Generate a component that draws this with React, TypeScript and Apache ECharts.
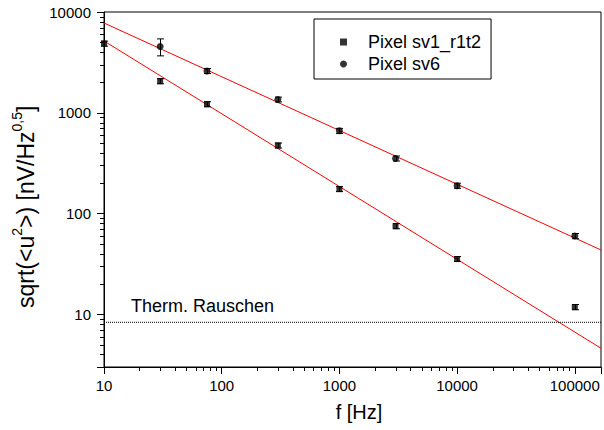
import React, { useEffect, useRef } from "react";
import * as echarts from "echarts";

const FONT = "Arial, Liberation Sans, Helvetica, sans-serif";

// axis ranges
const X_MIN = 10;
const X_MAX = 167000;
const Y_MIN = 3;
const Y_MAX = 10000;

// Pixel sv1_r1t2 (squares)
const freqSq = [10, 30, 75, 300, 1000, 3000, 10000, 100000];
const valSq = [4860, 2060, 1217, 474, 175, 75, 35.4, 11.8];
const errSq = [280, 120, 70, 27, 10, 4.4, 2.0, 0.7];

// Pixel sv6 (circles)
const freqCi = [30, 75, 300, 1000, 3000, 10000, 100000];
const valCi = [4540, 2600, 1355, 662, 352, 189, 59.8];
const errCi = [870, 150, 75, 38, 20, 11, 3.5];

// linear fits (end points)
const fitCi = [
  [10, 7780],
  [167000, 43.5],
];
const fitSq = [
  [10, 5160],
  [167000, 4.6],
];

// thermal noise level
const thermal = 8.33;

const legendNames = ["Pixel sv1_r1t2", "Pixel sv6"];

// y axis title pieces: [text, isSuperscript]
const yTitleParts: [string, boolean][] = [
  ["sqrt(<u", false],
  ["2", true],
  [">) [nV/Hz", false],
  ["0,5", true],
  ["]", false],
];

function decadeTicks(lo: number, hi: number): number[] {
  const out: number[] = [];
  for (let d = 1; d <= 100000; d *= 10) {
    for (let m = 2; m <= 9; m++) {
      const v = m * d;
      if (v > lo && v < hi) out.push(v);
    }
  }
  return out;
}

const decadeFmt = (v: number) => {
  const l = Math.log10(v);
  return Math.abs(l - Math.round(l)) < 1e-6 ? String(Math.round(v)) : "";
};

function buildYTitle() {
  const MAIN = 23;
  const SUP = 14;
  const cvs = document.createElement("canvas");
  const ctx = cvs.getContext("2d")!;
  let x = 0;
  const children: any[] = [];
  for (const [t, sup] of yTitleParts) {
    const fs = sup ? SUP : MAIN;
    ctx.font = `${fs}px ${FONT}`;
    const w = ctx.measureText(t).width;
    children.push({
      type: "text",
      x,
      y: sup ? -9 : 0,
      style: {
        text: t,
        fontSize: fs,
        fontFamily: FONT,
        fill: "#000",
        align: "left",
        verticalAlign: "middle",
      },
    });
    x += w;
  }
  return {
    type: "group",
    x: 26,
    y: 308,
    rotation: Math.PI / 2,
    children,
  };
}

export default function App() {
  const ref = useRef<HTMLDivElement>(null);
  useEffect(() => {
    if (!ref.current) return;
    const chart = echarts.init(ref.current, undefined, { renderer: "svg" });
    const xMinor = decadeTicks(X_MIN, X_MAX);
    const yMinor = decadeTicks(Y_MIN, Y_MAX);

    const errRender = (params: any, api: any) => {
      const x = api.value(0);
      const lo = api.coord([x, api.value(1)]);
      const hi = api.coord([x, api.value(2)]);
      const cx = Math.round(lo[0]) + 0.5;
      const st = { stroke: "#000", lineWidth: 1 };
      return {
        type: "group",
        children: [
          { type: "line", shape: { x1: cx, y1: lo[1], x2: cx, y2: hi[1] }, style: st },
          { type: "line", shape: { x1: cx - 3.5, y1: lo[1], x2: cx + 3.5, y2: lo[1] }, style: st },
          { type: "line", shape: { x1: cx - 3.5, y1: hi[1], x2: cx + 3.5, y2: hi[1] }, style: st },
        ],
      };
    };

    const axisCommon = {
      type: "log",
      logBase: 10,
      axisLine: { lineStyle: { color: "#000", width: 1 } },
      axisTick: { length: 7, lineStyle: { color: "#000", width: 1 } },
      splitLine: { show: false },
      minorTick: { show: false },
    };

    chart.setOption({
      animation: false,
      backgroundColor: "#fff",
      textStyle: { fontFamily: FONT },
      grid: {
        left: 104,
        top: 12,
        right: -1,
        bottom: 63,
        show: true,
        borderColor: "#000",
        borderWidth: 1,
        backgroundColor: "transparent",
      },
      legend: {
        data: [
          { name: legendNames[0], icon: "rect" },
          { name: legendNames[1], icon: "circle" },
        ],
        orient: "vertical",
        left: 314,
        top: 19,
        itemWidth: 7,
        itemHeight: 7,
        itemGap: 0,
        padding: [12, 10, 4, 26],
        borderColor: "#000",
        borderWidth: 1,
        backgroundColor: "#fff",
        selectedMode: false,
        textStyle: {
          fontSize: 18,
          lineHeight: 22,
          color: "#000",
          fontFamily: FONT,
          padding: [0, 0, 0, 16],
        },
      },
      xAxis: {
        ...axisCommon,
        min: X_MIN,
        max: X_MAX,
        axisLabel: {
          color: "#000",
          fontSize: 15,
          fontFamily: FONT,
          margin: 11,
          formatter: decadeFmt,
        },
      },
      yAxis: {
        ...axisCommon,
        min: Y_MIN,
        max: Y_MAX,
        axisLabel: {
          color: "#000",
          fontSize: 15,
          fontFamily: FONT,
          margin: 13,
          formatter: decadeFmt,
        },
      },
      series: [
        {
          type: "line",
          data: fitCi,
          symbol: "none",
          lineStyle: { color: "#ff0000", width: 1 },
          silent: true,
          z: 2,
        },
        {
          type: "line",
          data: fitSq,
          symbol: "none",
          lineStyle: { color: "#ff0000", width: 1 },
          silent: true,
          z: 2,
        },
        {
          type: "line",
          data: [
            [X_MIN, thermal],
            [X_MAX, thermal],
          ],
          symbol: "none",
          lineStyle: { color: "#000", width: 1, type: [1, 1] },
          silent: true,
          z: 2,
        },
        {
          type: "custom",
          coordinateSystem: "cartesian2d",
          encode: { x: 0, y: [1, 2] },
          renderItem: errRender,
          data: freqSq.map((f, i) => [f, valSq[i] - errSq[i], valSq[i] + errSq[i]]),
          silent: true,
          z: 3,
        },
        {
          type: "custom",
          coordinateSystem: "cartesian2d",
          encode: { x: 0, y: [1, 2] },
          renderItem: errRender,
          data: freqCi.map((f, i) => [f, valCi[i] - errCi[i], valCi[i] + errCi[i]]),
          silent: true,
          z: 3,
        },
        {
          name: legendNames[0],
          type: "scatter",
          symbol: "rect",
          symbolSize: 6,
          itemStyle: { color: "#000" },
          data: freqSq.map((f, i) => [f, valSq[i]]),
          z: 4,
        },
        {
          name: legendNames[1],
          type: "scatter",
          symbol: "circle",
          symbolSize: 7,
          itemStyle: { color: "#000" },
          data: freqCi.map((f, i) => [f, valCi[i]]),
          z: 4,
        },
        {
          type: "custom",
          coordinateSystem: "cartesian2d",
          clip: false,
          silent: true,
          data: xMinor.map((v) => [v, Y_MIN]),
          renderItem: (params: any, api: any) => {
            const p = api.coord([api.value(0), Y_MIN]);
            const x = Math.round(p[0]) + 0.5;
            return {
              type: "line",
              shape: { x1: x, y1: p[1], x2: x, y2: p[1] + 4 },
              style: { stroke: "#000", lineWidth: 1 },
            };
          },
        },
        {
          type: "custom",
          coordinateSystem: "cartesian2d",
          clip: false,
          silent: true,
          data: yMinor.map((v) => [X_MIN, v]),
          renderItem: (params: any, api: any) => {
            const p = api.coord([X_MIN, api.value(1)]);
            const y = Math.round(p[1]) + 0.5;
            return {
              type: "line",
              shape: { x1: p[0] - 4, y1: y, x2: p[0], y2: y },
              style: { stroke: "#000", lineWidth: 1 },
            };
          },
        },
      ],
      graphic: [
        buildYTitle(),
        {
          type: "text",
          x: 359,
          y: 412,
          style: {
            text: "f [Hz]",
            fontSize: 20,
            fontFamily: FONT,
            fill: "#000",
            align: "center",
            verticalAlign: "middle",
          },
        },
        {
          type: "text",
          x: 131,
          y: 306,
          style: {
            text: "Therm. Rauschen",
            fontSize: 18,
            fontFamily: FONT,
            fill: "#000",
            align: "left",
            verticalAlign: "middle",
          },
        },
      ],
    });
    return () => chart.dispose();
  }, []);
  return (
    <div
      ref={ref}
      style={{ position: "fixed", left: 0, top: 0, width: 604, height: 430, background: "#fff" }}
    />
  );
}
